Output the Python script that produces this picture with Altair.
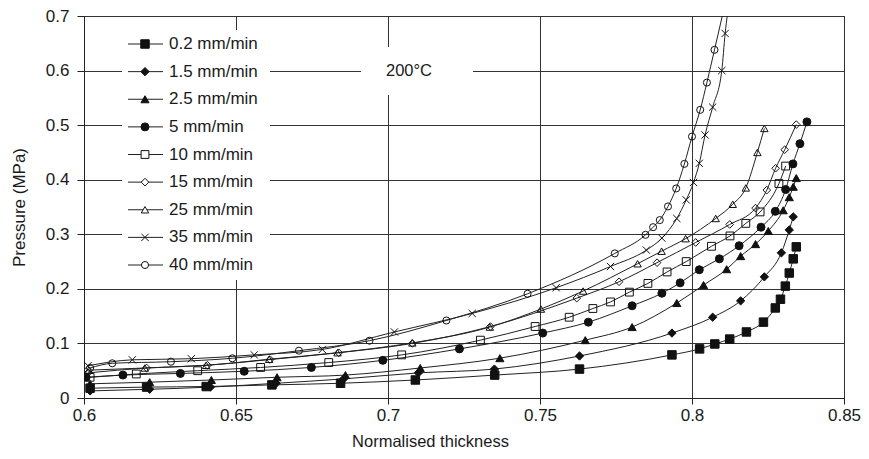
import altair as alt
import pandas as pd

series = ["0.2 mm/min", "1.5 mm/min", "2.5 mm/min", "5 mm/min", "10 mm/min",
          "15 mm/min", "25 mm/min", "35 mm/min", "40 mm/min"]

x_02 = [0.602, 0.6206, 0.6402, 0.6618, 0.6844, 0.709, 0.7351, 0.763, 0.7934, 0.8025,
        0.8075, 0.8124, 0.8179, 0.8235, 0.8274, 0.8291, 0.8307, 0.832, 0.8333, 0.8343]
y_02 = [0.018, 0.020, 0.021, 0.024, 0.027, 0.033, 0.042, 0.053, 0.079, 0.090,
        0.099, 0.108, 0.121, 0.139, 0.165, 0.181, 0.205, 0.229, 0.255, 0.277]

x_15 = [0.602, 0.6216, 0.6416, 0.6632, 0.6854, 0.710, 0.735, 0.763, 0.7934, 0.8068,
        0.816, 0.8238, 0.8294, 0.832, 0.8333]
y_15 = [0.013, 0.016, 0.020, 0.027, 0.035, 0.046, 0.053, 0.077, 0.119, 0.148,
        0.178, 0.222, 0.266, 0.308, 0.332]

x_25 = [0.602, 0.6216, 0.6419, 0.6635, 0.686, 0.7106, 0.7368, 0.7649, 0.7803, 0.795,
        0.8038, 0.8114, 0.816, 0.8209, 0.8251, 0.830, 0.832, 0.8333, 0.8343]
y_25 = [0.026, 0.029, 0.033, 0.038, 0.042, 0.055, 0.073, 0.106, 0.130, 0.174,
        0.207, 0.236, 0.260, 0.282, 0.306, 0.344, 0.368, 0.387, 0.403]

x_5 = [0.6007, 0.6128, 0.6317, 0.6527, 0.6748, 0.6983, 0.7235, 0.7509, 0.7659, 0.7803,
       0.7901, 0.7961, 0.8024, 0.809, 0.8155, 0.8227, 0.8274, 0.8308, 0.8332, 0.8355, 0.8378]
y_5 = [0.038, 0.042, 0.045, 0.049, 0.056, 0.069, 0.090, 0.119, 0.139, 0.169,
       0.192, 0.211, 0.235, 0.255, 0.279, 0.313, 0.342, 0.382, 0.429, 0.466, 0.506]

x_10 = [0.602, 0.6172, 0.6374, 0.6581, 0.6805, 0.7045, 0.7304, 0.7484, 0.7596, 0.7674,
        0.7732, 0.7794, 0.7855, 0.7918, 0.7981, 0.8064, 0.8125, 0.8177, 0.8224, 0.8286, 0.8308]
y_10 = [0.038, 0.044, 0.050, 0.056, 0.065, 0.079, 0.106, 0.131, 0.148, 0.164,
        0.176, 0.194, 0.210, 0.231, 0.250, 0.278, 0.297, 0.320, 0.341, 0.393, 0.425]

x_15b = [0.6013, 0.6206, 0.6406, 0.6612, 0.6838, 0.708, 0.7337, 0.7621, 0.776, 0.7885,
         0.8012, 0.8124, 0.8209, 0.8246, 0.8275, 0.8305, 0.8343]
y_15b = [0.046, 0.055, 0.060, 0.0705, 0.083, 0.100, 0.131, 0.183, 0.213, 0.248,
         0.285, 0.318, 0.348, 0.381, 0.421, 0.455, 0.501]

x_25b = [0.6016, 0.620, 0.6402, 0.6609, 0.6834, 0.708, 0.7335, 0.7503, 0.7642, 0.7821,
         0.790, 0.7979, 0.8078, 0.8134, 0.8177, 0.8215, 0.8238]
y_25b = [0.051, 0.055, 0.060, 0.071, 0.083, 0.101, 0.130, 0.163, 0.196, 0.246,
         0.269, 0.292, 0.329, 0.355, 0.385, 0.450, 0.494]

x_35 = [0.6013, 0.6159, 0.6353, 0.656, 0.6784, 0.7021, 0.7277, 0.7553, 0.7732, 0.785,
        0.7901, 0.795, 0.7981, 0.8005, 0.8024, 0.8043, 0.8068, 0.8098, 0.8109]
y_35 = [0.059, 0.070, 0.072, 0.079, 0.089, 0.121, 0.155, 0.202, 0.241, 0.271,
        0.293, 0.329, 0.363, 0.395, 0.430, 0.482, 0.533, 0.600, 0.668]

x_40 = [0.602, 0.6093, 0.6286, 0.6488, 0.6707, 0.6939, 0.7192, 0.7459, 0.7746, 0.7847,
        0.7872, 0.7894, 0.7921, 0.7948, 0.7975, 0.800, 0.8027, 0.8049, 0.8074]
y_40 = [0.055, 0.0636, 0.0665, 0.0728, 0.0867, 0.105, 0.142, 0.191, 0.265, 0.299,
        0.313, 0.326, 0.351, 0.384, 0.429, 0.479, 0.528, 0.578, 0.638]

# line continues past the top edge (clipped) for the two fastest rates
ext_series = ["35 mm/min", "40 mm/min"]
ext_x = [0.8124, 0.8112]
ext_y = [0.73, 0.73]

shapes = ["square", "diamond", "triangle-up", "circle", "square", "diamond",
          "triangle-up", "M-1,-1L1,1M-1,1L1,-1", "circle"]
fills_plot = ["#111", "#111", "#111", "#111", "transparent", "transparent",
              "transparent", "transparent", "transparent"]
fills_leg = ["#111", "#111", "#111", "#111", "white", "white", "white", "white", "white"]
sizes = [72, 50, 70, 72, 72, 45, 78, 64, 80]

all_x = [x_02, x_15, x_25, x_5, x_10, x_15b, x_25b, x_35, x_40]
all_y = [y_02, y_15, y_25, y_5, y_10, y_15b, y_25b, y_35, y_40]

rows = []
for name, xs, ys in zip(series, all_x, all_y):
    for a, b in zip(xs, ys):
        rows.append({"series": name, "x": a, "y": b})
pts = pd.DataFrame(rows)
line_rows = rows + [{"series": s, "x": a, "y": b} for s, a, b in zip(ext_series, ext_x, ext_y)]
lines_df = pd.DataFrame(line_rows)

FONT = "Liberation Sans"
INK = "#1a1a1a"

xscale = alt.Scale(domain=[0.6, 0.85], nice=False, zero=False)
yscale = alt.Scale(domain=[0, 0.7], nice=False, zero=False)

x_axis = alt.Axis(values=[0.6, 0.65, 0.7, 0.75, 0.8, 0.85], format="~g",
                  title="Normalised thickness", titleX=346, titleY=43,
                  titleBaseline="middle", titleAlign="center", titleFontSize=16.5,
                  tickSize=6, labelPadding=3, labelFlush=False, grid=True)
y_axis = alt.Axis(values=[0, 0.1, 0.2, 0.3, 0.4, 0.5, 0.6, 0.7], format="~g",
                  title="Pressure (MPa)", titleX=-65, titleY=191,
                  titleAlign="center", titleBaseline="middle", titleAngle=-90,
                  tickSize=7, labelPadding=8, labelFlush=False, grid=True)

shape_scale = alt.Scale(domain=series, range=shapes)
size_scale = alt.Scale(domain=series, range=sizes)

one = pd.DataFrame({"a": [0]})

leg_bg = alt.Chart(one).mark_rect(fill="white").encode(
    x=alt.value(38), x2=alt.value(186), y=alt.value(14), y2=alt.value(264))
temp_bg = alt.Chart(one).mark_rect(fill="white").encode(
    x=alt.value(277), x2=alt.value(389), y=alt.value(31), y2=alt.value(79))
temp_txt = alt.Chart(pd.DataFrame({"t": ["200°C"]})).mark_text(
    font=FONT, fontSize=16.5, color=INK, align="center", baseline="middle").encode(
    x=alt.value(325), y=alt.value(55), text="t:N")

lines = alt.Chart(lines_df).mark_line(interpolate="monotone", clip=True, color="#222",
                                      strokeWidth=1).encode(
    x=alt.X("x:Q", scale=xscale, axis=x_axis),
    y=alt.Y("y:Q", scale=yscale, axis=y_axis),
    detail="series:N",
    order="x:Q")

points = alt.Chart(pts).mark_point(stroke="#111", strokeWidth=1, opacity=1, clip=True).encode(
    x=alt.X("x:Q", scale=xscale, axis=x_axis),
    y=alt.Y("y:Q", scale=yscale, axis=None),
    shape=alt.Shape("series:N", scale=shape_scale, legend=None),
    fill=alt.Fill("series:N", scale=alt.Scale(domain=series, range=fills_plot), legend=None),
    size=alt.Size("series:O", scale=size_scale, legend=None))

leg = pd.DataFrame({"series": series})
leg_y = alt.Y("series:N", scale=alt.Scale(type="point", domain=series, range=[28, 249], padding=0),
              axis=None)
leg_rule = alt.Chart(leg).mark_rule(color="#222", strokeWidth=1).encode(
    x=alt.value(44), x2=alt.value(79), y=leg_y)
leg_pts = alt.Chart(leg).mark_point(stroke="#111", strokeWidth=1, opacity=1).encode(
    x=alt.value(61), y=leg_y,
    shape=alt.Shape("series:N", scale=shape_scale, legend=None),
    fill=alt.Fill("series:N", scale=alt.Scale(domain=series, range=fills_leg), legend=None),
    size=alt.Size("series:O", scale=size_scale, legend=None))
leg_txt = alt.Chart(leg).mark_text(font=FONT, fontSize=17, color=INK, align="left",
                                   baseline="middle").encode(
    x=alt.value(85), y=leg_y, text="series:N")

chart = alt.layer(leg_bg, temp_bg, temp_txt, lines, points, leg_rule, leg_pts, leg_txt).resolve_scale(
    y="independent", fill="independent"
).properties(
    width=760, height=382,
    autosize=alt.AutoSizeParams(type="none"),
    padding={"left": 76, "top": 8, "right": 17, "bottom": 53},
    background="white"
).configure_view(
    stroke="#222", strokeWidth=1
).configure_axis(
    labelFont=FONT, titleFont=FONT, labelFontSize=17, titleFontSize=17,
    labelColor=INK, titleColor=INK, titleFontWeight="normal",
    domainColor="#222", tickColor="#222", gridColor="#333", gridOpacity=1,
    gridWidth=1, domainWidth=1, tickWidth=1
)

chart.save("out.html", embed_options={"renderer": "svg", "actions": False})
